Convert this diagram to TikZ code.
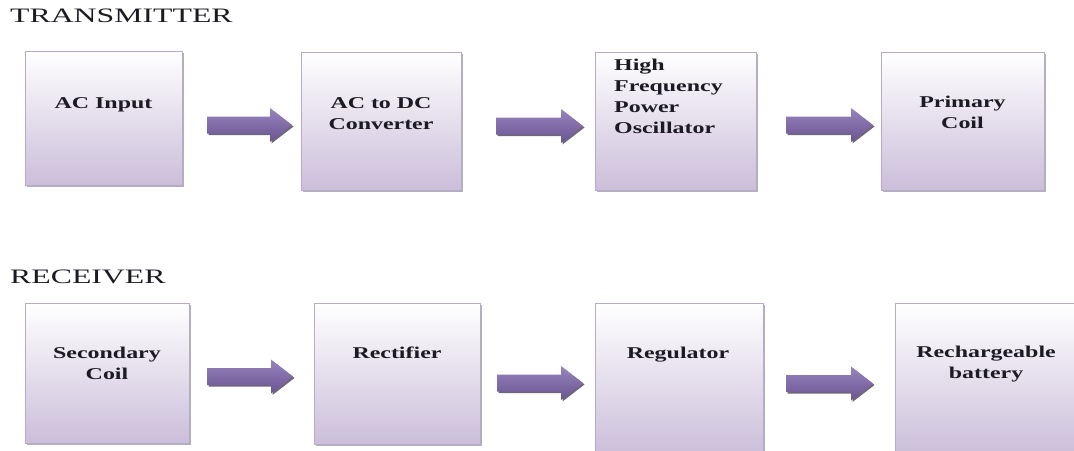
\documentclass[tikz,border=0pt]{standalone}
\usepackage{fontspec}
\setmainfont{Liberation Serif}
\newfontfamily\titlefont[FakeStretch=1.55]{Liberation Serif}
\newfontfamily\boxfont[FakeStretch=1.45]{Liberation Serif Bold}
\usetikzlibrary{calc,shadows}
\definecolor{boxbot}{HTML}{CBBEDA}
\definecolor{boxedge}{HTML}{B8A9CE}
\definecolor{arrtop}{HTML}{9885BD}
\definecolor{arrbot}{HTML}{6A5392}
\definecolor{arrshadow}{HTML}{3E3450}
\definecolor{txt}{HTML}{1C1A22}
\tikzset{
  stagebox/.style={draw=boxedge, line width=0.9pt, top color=white, bottom color=boxbot,
    drop shadow={shadow xshift=1.5pt, shadow yshift=-1.5pt, fill=black, opacity=0.3},
    anchor=north west, inner sep=0pt, outer sep=0pt},
  boxtext/.style={font=\boxfont\fontsize{16.5}{21}\selectfont, text=txt, inner sep=0pt,
    align=center, anchor=base},
  heading/.style={font=\titlefont\fontsize{20.5}{24}\selectfont, text=txt, inner sep=0pt,
    anchor=base west},
}
\newcommand\barrow[2]{%
  \fill[arrshadow, opacity=0.75] let \p1=(#1), \p2=(#2) in
    ({\x1+1.5pt},{\y1+8.5pt-1.5pt}) -- ({\x2-22pt+1.5pt},{\y1+8.5pt-1.5pt})
    -- ({\x2-22pt+1.5pt},{\y1+17pt-1.5pt}) -- ({\x2+1.5pt},{\y1-1.5pt})
    -- ({\x2-22pt+1.5pt},{\y1-17pt-1.5pt}) -- ({\x2-22pt+1.5pt},{\y1-8.5pt-1.5pt})
    -- ({\x1+1.5pt},{\y1-8.5pt-1.5pt}) -- cycle;
  \shade[top color=arrtop, bottom color=arrbot] let \p1=(#1), \p2=(#2) in
    (\x1,{\y1+8.5pt}) -- ({\x2-22pt},{\y1+8.5pt}) -- ({\x2-22pt},{\y1+17pt})
    -- (\x2,\y1) -- ({\x2-22pt},{\y1-17pt}) -- ({\x2-22pt},{\y1-8.5pt})
    -- (\x1,{\y1-8.5pt}) -- cycle;
}
\begin{document}
\begin{tikzpicture}[x=1pt,y=-1pt]
\useasboundingbox (0,0) rectangle (1074,450);
\fill[white] (0,0) rectangle (1074,450);
% headings
\node[heading] (htx) at (10,22.7) {TRANSMITTER};
\node[heading] (hrx) at (10,283.3) {RECEIVER};
% transmitter boxes
\node[stagebox, minimum width=157pt, minimum height=134pt] (t1) at (25,51) {};
\node[stagebox, minimum width=160pt, minimum height=138pt] (t2) at (301,52) {};
\node[stagebox, minimum width=161pt, minimum height=138pt] (t3) at (595,52) {};
\node[stagebox, minimum width=163pt, minimum height=138pt] (t4) at (881,52) {};
% receiver boxes
\node[stagebox, minimum width=164pt, minimum height=140pt] (r1) at (25,303) {};
\node[stagebox, minimum width=166pt, minimum height=141pt] (r2) at (314,303) {};
\node[stagebox, minimum width=168pt, minimum height=152pt] (r3) at (595,303) {};
\node[stagebox, minimum width=190pt, minimum height=152pt] (r4) at (895,303) {};
% texts
\node[boxtext] (lt1) at (103.5,108) {AC Input};
\node[boxtext] (lt2) at (381,129) {AC to DC\\Converter};
\node[boxtext, align=left, anchor=base west] (lt3) at (614,133.7) {High\\Frequency\\Power\\Oscillator};
\node[boxtext] (lt4) at (962.5,128) {Primary\\Coil};
\node[boxtext] (lr1) at (107,379) {Secondary\\Coil};
\node[boxtext] (lr2) at (397,358) {Rectifier};
\node[boxtext] (lr3) at (678,358) {Regulator};
\node[boxtext] (lr4) at (986,378) {Rechargeable\\battery};
% arrow end points
\coordinate (at1s) at ($(t1.east)+(25,7)$);
\coordinate (at1e) at ($(t2.west)+(-9,4)$);
\coordinate (at2s) at ($(t2.east)+(35,5)$);
\coordinate (at2e) at ($(t3.west)+(-12,5)$);
\coordinate (at3s) at ($(t3.east)+(30,4)$);
\coordinate (at3e) at ($(t4.west)+(-8,4)$);
\coordinate (ar1s) at ($(r1.east)+(18,3.5)$);
\coordinate (ar1e) at ($(r2.west)+(-21,3.5)$);
\coordinate (ar2s) at ($(r2.east)+(17,9.5)$);
\coordinate (ar2e) at ($(r3.west)+(-12,9.5)$);
\coordinate (ar3s) at ($(r3.east)+(23,4.5)$);
\coordinate (ar3e) at ($(r4.west)+(-22,4.5)$);
\barrow{at1s}{at1e}
\barrow{at2s}{at2e}
\barrow{at3s}{at3e}
\barrow{ar1s}{ar1e}
\barrow{ar2s}{ar2e}
\barrow{ar3s}{ar3e}
\end{tikzpicture}
\end{document}
